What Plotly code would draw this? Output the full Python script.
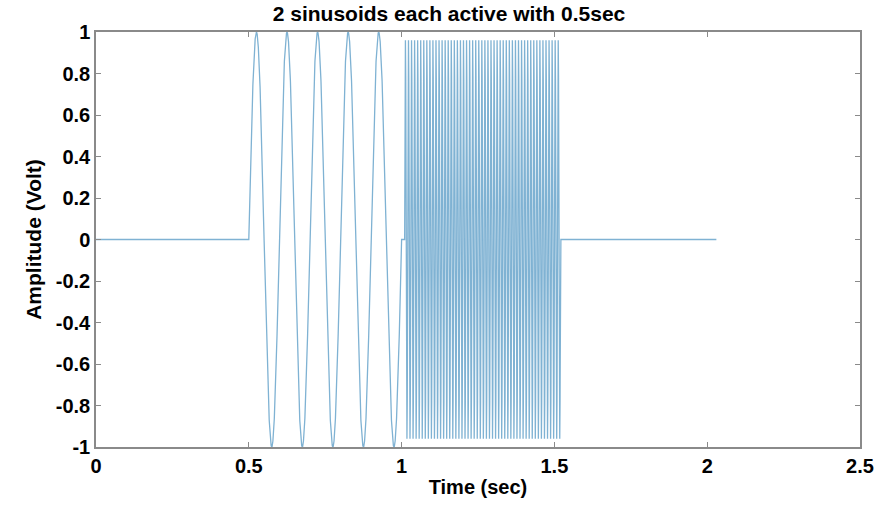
import numpy as np
import plotly.graph_objects as go

# Signal description (piecewise segments)
seg_start = [0.0, 0.5, 1.01, 1.519]    # sec
seg_end = [0.5, 1.0, 1.519, 2.03]      # sec
seg_freq = [0.0, 10.0, 100.0, 0.0]     # Hz
seg_amp = [0.0, 1.0, 0.96, 0.0]        # Volt
fs = 4000.0                            # samples per second

x_ticks = [0, 0.5, 1, 1.5, 2, 2.5]
x_ticklabels = ["0", "0.5", "1", "1.5", "2", "2.5"]
y_ticks = [1, 0.8, 0.6, 0.4, 0.2, 0, -0.2, -0.4, -0.6, -0.8, -1]
y_ticklabels = ["1", "0.8", "0.6", "0.4", "0.2", "0", "-0.2", "-0.4", "-0.6", "-0.8", "-1"]

t_all, v_all = [], []
for s, e, f, a in zip(seg_start, seg_end, seg_freq, seg_amp):
    n = int(round((e - s) * fs))
    t = s + np.arange(n + 1) / fs
    v = a * np.sin(2 * np.pi * f * (t - s))
    t_all.append(t)
    v_all.append(v)
t_all = np.concatenate(t_all)
v_all = np.concatenate(v_all)

line_col = "#7fb2d3"
axis_col = "#8a8a8a"
font_fam = "Liberation Sans, Arial, sans-serif"

fig = go.Figure()
fig.add_trace(go.Scatter(x=t_all, y=v_all, mode="lines",
                         line=dict(color=line_col, width=1.3),
                         showlegend=False, hoverinfo="skip"))

axis_common = dict(showgrid=False, zeroline=False, showline=True, linecolor=axis_col,
                   linewidth=1.5, mirror="allticks", ticks="inside", ticklen=5,
                   tickcolor=axis_col, tickwidth=1,
                   tickfont=dict(family=font_fam, size=20, color="black", weight="bold"))

fig.update_layout(
    width=886, height=508,
    margin=dict(l=96, r=20, t=32, b=61),
    paper_bgcolor="white", plot_bgcolor="white",
    title=dict(text="2 sinusoids each active with 0.5sec", x=449/886, xref="container",
               xanchor="center", y=1 - 14/508, yanchor="middle", yref="container",
               font=dict(family=font_fam, size=21, color="black", weight="bold")),
    xaxis=dict(range=[0, 2.5], tickvals=x_ticks, ticktext=x_ticklabels,
               title=dict(text="Time (sec)", standoff=4,
                          font=dict(family=font_fam, size=20, color="black", weight="bold")),
               **axis_common),
    yaxis=dict(range=[-1, 1], tickvals=y_ticks, ticktext=y_ticklabels,
               title=dict(text="Amplitude (Volt)", standoff=8,
                          font=dict(family=font_fam, size=21, color="black", weight="bold")),
               **axis_common),
)

fig.write_html("out.html")
